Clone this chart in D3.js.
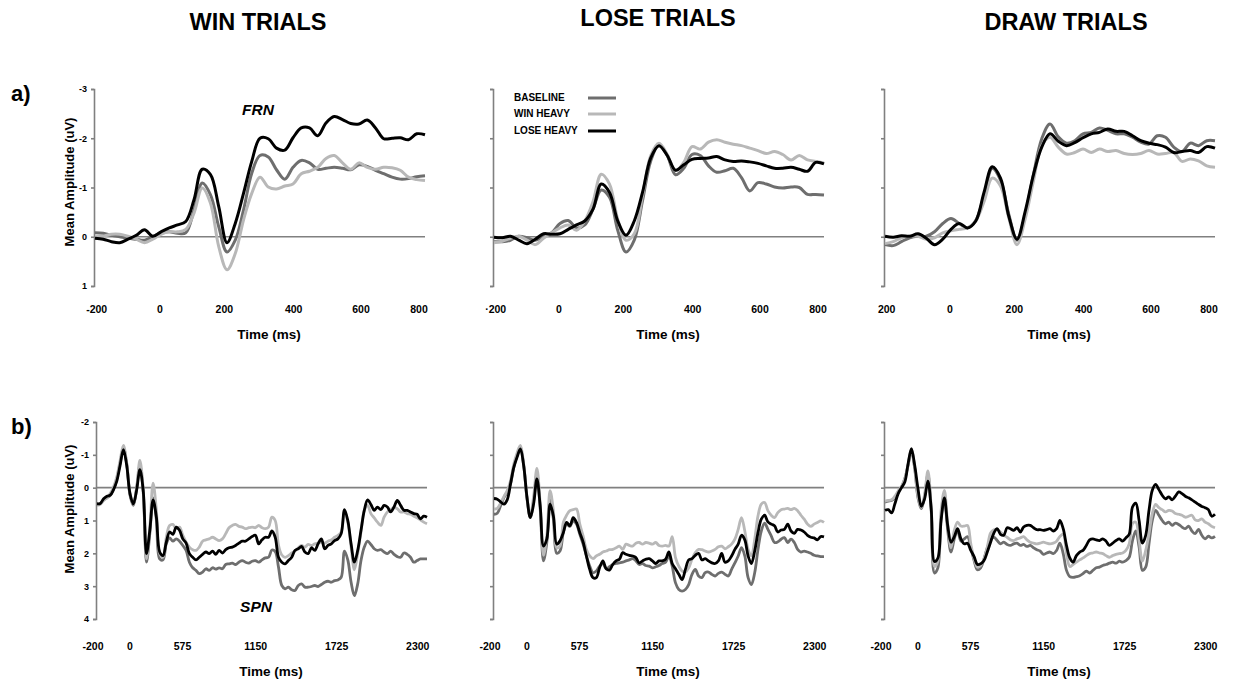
<!DOCTYPE html>
<html>
<head>
<meta charset="utf-8">
<script src="https://cdn.jsdelivr.net/npm/d3@7"></script>
<style>
	body { margin: 0; background: #fff; }
	svg { display: block; font-family: "Liberation Sans", Arial, sans-serif; }
</style>
</head>
<body>
<div id="chart"></div>
<script>
// conditions + panel titles
const conditions = ["BASELINE", "WIN HEAVY", "LOSE HEAVY"];
const trialTypes = ["WIN TRIALS", "LOSE TRIALS", "DRAW TRIALS"];

// sample grids (ms)
const frnTimes = d3.range(-200, 801, 25);
const spnTimes = d3.range(-200, 2301, 25);

// ticks
const frnYTicks = [-3, -2, -1, 0, 1];
const spnYTicks = [-2, -1, 0, 1, 2, 3, 4];
const frnXTicks = [-200, 0, 200, 400, 600, 800];
const spnXTicks = [-200, 0, 575, 1150, 1725, 2300];
const frnXLabels = [
	["-200", "0", "200", "400", "600", "800"],
	["·200", "0", "200", "400", "600", "800"],
	["200", "0", "200", "400", "600", "800"]
];
const spnXLabels = ["-200", "0", "575", "1150", "1725", "2300"];

// a) FRN, mean amplitude (uV) every 25 ms from -200 to 800
const frnWinBaseline = [-0.08, -0.07, -0.03, 0, 0.03, 0.05, 0.07, 0, -0.08, -0.10, -0.07, -0.08, -0.54, -1.09, -0.85, -0.20, 0.31, 0.07, -0.54, -1.29, -1.65, -1.62, -1.36, -1.17, -1.41, -1.55, -1.50, -1.37, -1.39, -1.41, -1.39, -1.36, -1.46, -1.43, -1.35, -1.28, -1.21, -1.17, -1.18, -1.22, -1.24];
const frnWinWinHeavy = [0, -0.01, -0.05, -0.05, -0.01, 0.05, 0.12, 0.05, -0.05, -0.10, -0.10, -0.15, -0.48, -0.99, -0.68, 0.20, 0.67, 0.34, -0.34, -0.88, -1.21, -1.01, -0.97, -1.03, -1.07, -1.28, -1.33, -1.41, -1.59, -1.65, -1.50, -1.37, -1.50, -1.41, -1.37, -1.41, -1.40, -1.35, -1.21, -1.16, -1.14];
const frnWinLoseHeavy = [0.03, 0.05, 0.10, 0.12, 0.05, -0.03, -0.14, -0.01, -0.10, -0.18, -0.24, -0.31, -0.75, -1.37, -1.26, -0.61, 0.12, -0.27, -0.88, -1.53, -2.00, -1.99, -1.80, -1.76, -2.01, -2.21, -2.21, -2.05, -2.31, -2.44, -2.38, -2.30, -2.29, -2.37, -2.21, -1.99, -2.00, -2.01, -1.97, -2.09, -2.07];

const frnLoseBaseline = [0.10, 0.10, 0.07, -0.01, 0.02, 0.07, -0.01, -0.08, -0.27, -0.33, -0.18, -0.24, -0.56, -0.95, -0.80, -0.13, 0.31, 0.07, -0.73, -1.54, -1.87, -1.65, -1.26, -1.39, -1.67, -1.65, -1.44, -1.31, -1.34, -1.39, -1.20, -0.93, -1.10, -1.07, -1.01, -0.99, -1.01, -1.00, -0.86, -0.86, -0.85];
const frnLoseWinHeavy = [0.12, 0.09, 0.03, -0.01, 0.07, 0.16, 0.03, -0.08, -0.18, -0.24, -0.13, -0.32, -0.71, -1.27, -1.07, -0.35, 0.07, -0.06, -0.83, -1.65, -1.90, -1.67, -1.34, -1.51, -1.83, -1.78, -1.92, -1.97, -1.92, -1.88, -1.85, -1.80, -1.75, -1.69, -1.73, -1.67, -1.56, -1.65, -1.56, -1.53, -1.50];
const frnLoseLoseHeavy = [0.01, 0.02, -0.01, 0.07, 0.14, 0.05, -0.06, -0.05, -0.06, -0.15, -0.24, -0.32, -0.56, -1.07, -0.90, -0.32, -0.03, -0.32, -0.90, -1.60, -1.85, -1.65, -1.35, -1.46, -1.57, -1.59, -1.60, -1.63, -1.56, -1.53, -1.54, -1.52, -1.49, -1.44, -1.39, -1.39, -1.41, -1.37, -1.33, -1.51, -1.48];

const frnDrawBaseline = [0.16, 0.18, 0.10, 0.02, -0.01, -0.01, -0.10, -0.27, -0.37, -0.27, -0.18, -0.33, -0.83, -1.39, -1.15, -0.46, 0.07, -0.46, -1.27, -1.99, -2.29, -2.03, -1.90, -1.95, -2.09, -2.12, -2.21, -2.16, -2.09, -2.09, -2.02, -1.92, -1.88, -2.05, -2.02, -1.82, -1.73, -1.90, -1.85, -1.95, -1.95];
const frnDrawWinHeavy = [0.14, 0.10, 0.02, -0.01, -0.01, 0.05, 0.02, -0.08, -0.12, -0.15, -0.18, -0.32, -0.71, -1.19, -1.03, -0.39, 0.16, -0.37, -1.14, -1.85, -2.02, -1.82, -1.68, -1.71, -1.78, -1.71, -1.78, -1.73, -1.75, -1.69, -1.67, -1.69, -1.75, -1.68, -1.69, -1.71, -1.53, -1.58, -1.54, -1.44, -1.41];
const frnDrawLoseHeavy = [-0.01, 0.01, -0.02, -0.01, -0.06, 0.03, 0.16, 0.05, -0.15, -0.27, -0.18, -0.32, -0.90, -1.42, -1.19, -0.42, 0.05, -0.52, -1.26, -1.82, -2.09, -1.94, -1.85, -1.91, -2.01, -2.09, -2.12, -2.19, -2.14, -2.14, -2.05, -1.95, -1.90, -1.87, -1.82, -1.71, -1.73, -1.75, -1.71, -1.83, -1.80];

// b) SPN, mean amplitude (uV) every 25 ms from -200 to 2300
const spnWinBaseline = [0.51, 0.49, 0.37, 0.31, 0.23, 0.06, -0.27, -0.75, -1.22, -0.73,
	0.23, 0.54, 0.03, -0.68, 0.13, 2.27, 1.40, 0.31, 0.99, 2.17,
	2.20, 1.71, 1.53, 1.63, 1.56, 1.63, 1.76, 1.91, 2.27, 2.44,
	2.52, 2.62, 2.57, 2.47, 2.52, 2.44, 2.48, 2.44, 2.47, 2.34,
	2.32, 2.30, 2.34, 2.27, 2.22, 2.27, 2.30, 2.24, 2.22, 2.27,
	2.20, 2.14, 2.12, 1.90, 1.95, 2.42, 2.98, 3.08, 3.03, 3.11,
	3.13, 2.98, 2.93, 3.03, 3.03, 3.01, 2.98, 3.01, 2.95, 2.88,
	2.85, 2.88, 2.83, 2.81, 2.73, 1.93, 2.20, 2.88, 3.29, 2.93,
	2.22, 1.81, 1.63, 1.73, 1.86, 1.91, 1.89, 1.96, 2.01, 1.93,
	2.03, 2.10, 2.12, 1.99, 2.03, 2.12, 2.27, 2.22, 2.17, 2.17,
	2.17];
const spnWinWinHeavy = [0.54, 0.51, 0.39, 0.31, 0.18, -0.02, -0.33, -0.83, -1.29, -0.75,
	0.16, 0.51, 0.00, -0.83, 0.03, 2.17, 1.20, -0.14, 0.69, 2.01,
	2.12, 1.51, 1.15, 1.12, 1.25, 1.20, 1.45, 1.66, 1.81, 1.89,
	1.91, 1.81, 1.63, 1.59, 1.56, 1.51, 1.56, 1.61, 1.56, 1.40,
	1.22, 1.15, 1.12, 1.18, 1.20, 1.25, 1.22, 1.20, 1.22, 1.15,
	1.22, 1.25, 1.20, 0.90, 1.00, 1.75, 2.05, 2.12, 2.07, 1.99,
	1.93, 1.83, 1.76, 1.81, 1.73, 1.76, 1.71, 1.69, 1.66, 1.69,
	1.63, 1.59, 1.51, 1.45, 1.35, 0.74, 1.05, 1.81, 2.50, 2.01,
	1.35, 0.69, 0.54, 0.79, 0.92, 1.05, 1.15, 0.90, 0.74, 0.67,
	0.61, 0.64, 0.74, 0.74, 0.79, 0.81, 0.87, 0.92, 0.98, 1.05,
	1.10];
const spnWinLoseHeavy = [0.49, 0.48, 0.34, 0.26, 0.23, 0.06, -0.20, -0.68, -1.16, -0.68,
	0.18, 0.49, 0.08, -0.55, 0.08, 2.01, 1.30, 0.37, 0.90, 1.96,
	2.07, 1.66, 1.35, 1.42, 1.20, 1.30, 1.56, 1.69, 2.01, 2.12,
	2.20, 2.12, 2.03, 1.96, 2.01, 1.93, 2.03, 1.91, 1.99, 1.89,
	1.83, 1.81, 1.76, 1.69, 1.63, 1.63, 1.56, 1.49, 1.45, 1.71,
	1.59, 1.51, 1.51, 1.32, 1.51, 2.12, 2.27, 2.32, 2.22, 2.12,
	1.91, 1.86, 1.79, 1.96, 2.01, 1.83, 1.91, 1.71, 1.56, 1.86,
	1.76, 1.71, 1.61, 1.56, 1.40, 0.67, 1.00, 1.71, 2.27, 1.91,
	1.30, 0.69, 0.37, 0.51, 0.69, 0.59, 0.67, 0.54, 0.59, 0.74,
	0.59, 0.39, 0.54, 0.69, 0.69, 0.74, 0.79, 0.81, 0.95, 0.87,
	0.90];

const spnLoseBaseline = [0.81, 0.78, 0.55, 0.30, 0.14, -0.11, -0.62, -0.98, -1.20, -0.67,
	0.33, 0.91, 0.40, -0.42, 0.65, 2.23, 1.67, 0.37, 0.96, 2.00,
	1.93, 1.37, 1.11, 1.18, 1.01, 1.11, 1.42, 1.72, 2.08, 2.39,
	2.59, 2.54, 2.39, 2.31, 2.47, 2.41, 2.34, 2.31, 2.29, 2.27,
	2.23, 2.20, 2.16, 2.23, 2.34, 2.31, 2.37, 2.39, 2.44, 2.41,
	2.37, 2.31, 2.27, 2.08, 2.39, 2.90, 3.10, 3.15, 3.10, 2.95,
	2.64, 2.49, 2.69, 2.74, 2.59, 2.57, 2.64, 2.69, 2.61, 2.57,
	2.64, 2.69, 2.49, 2.29, 2.08, 1.83, 2.08, 2.74, 2.95, 2.59,
	1.88, 1.32, 1.08, 1.27, 1.47, 1.67, 1.65, 1.57, 1.52, 1.67,
	1.57, 1.67, 1.88, 1.96, 1.93, 1.96, 2.00, 2.06, 2.08, 2.10,
	2.10];
const spnLoseWinHeavy = [0.65, 0.63, 0.47, 0.27, 0.09, -0.21, -0.72, -1.06, -1.29, -0.72,
	0.27, 0.88, 0.27, -0.59, 0.50, 2.06, 1.47, 0.09, 0.70, 1.83,
	1.78, 1.06, 0.84, 0.70, 0.67, 0.65, 1.11, 1.47, 1.88, 2.08,
	2.16, 2.08, 2.03, 1.96, 1.93, 1.89, 1.88, 1.83, 1.78, 1.88,
	1.72, 1.76, 1.78, 1.69, 1.67, 1.72, 1.67, 1.69, 1.72, 1.67,
	1.76, 1.78, 1.76, 1.78, 1.49, 2.13, 2.39, 2.54, 2.57, 2.44,
	2.18, 1.98, 1.88, 1.89, 1.93, 1.96, 1.93, 1.88, 1.80, 1.78,
	1.86, 1.80, 1.72, 1.57, 1.27, 0.91, 1.32, 1.88, 2.08, 1.57,
	0.86, 0.50, 0.45, 0.70, 0.84, 0.91, 0.76, 0.67, 0.65, 0.63,
	0.67, 0.63, 0.70, 0.84, 0.96, 1.11, 1.18, 1.11, 1.06, 1.01,
	1.06];
const spnLoseLoseHeavy = [0.33, 0.35, 0.43, 0.50, 0.37, -0.11, -0.62, -0.93, -1.18, -0.67,
	0.30, 0.91, 0.50, -0.27, 0.55, 1.78, 1.57, 0.50, 0.86, 1.72,
	1.62, 1.37, 1.06, 1.16, 0.91, 1.06, 1.37, 1.65, 2.08, 2.49,
	2.74, 2.74, 2.44, 2.23, 2.47, 2.51, 2.34, 2.23, 2.18, 1.98,
	2.03, 2.06, 2.08, 2.13, 2.29, 2.23, 2.18, 2.16, 2.23, 2.31,
	2.23, 2.23, 2.18, 1.96, 2.31, 2.47, 2.64, 2.80, 2.49, 2.20,
	2.16, 2.06, 2.00, 2.20, 2.16, 2.23, 2.29, 2.31, 2.23, 2.00,
	2.27, 2.23, 2.08, 1.88, 1.72, 1.45, 1.59, 2.08, 2.31, 1.93,
	1.37, 0.96, 0.84, 1.04, 1.11, 1.16, 1.35, 1.29, 1.27, 1.11,
	1.32, 1.39, 1.27, 1.29, 1.35, 1.45, 1.51, 1.53, 1.59, 1.49,
	1.50];

const spnDrawBaseline = [0.44, 0.41, 0.39, 0.31, 0.13, -0.02, -0.27, -0.68, -1.12, -0.58,
	0.31, 0.64, 0.28, -0.41, 0.69, 2.60, 2.45, 0.90, 0.37, 1.30,
	1.96, 1.56, 1.30, 1.63, 1.56, 1.49, 1.81, 2.22, 2.50, 2.44,
	2.17, 1.83, 1.59, 1.51, 1.61, 1.71, 1.66, 1.73, 1.76, 1.71,
	1.69, 1.76, 1.73, 1.79, 1.76, 1.83, 1.89, 1.93, 2.03, 1.99,
	1.96, 2.01, 1.91, 1.69, 2.01, 2.52, 2.71, 2.73, 2.71, 2.68,
	2.62, 2.54, 2.60, 2.52, 2.44, 2.42, 2.37, 2.34, 2.30, 2.27,
	2.30, 2.24, 2.27, 2.22, 2.12, 1.61, 1.32, 1.81, 2.52, 2.42,
	1.71, 1.00, 0.69, 0.84, 1.00, 1.10, 1.05, 1.15, 1.08, 1.12,
	1.20, 1.25, 1.17, 1.32, 1.40, 1.27, 1.45, 1.56, 1.48, 1.53,
	1.48];
const spnDrawWinHeavy = [0.41, 0.39, 0.37, 0.26, 0.10, -0.04, -0.27, -0.71, -1.16, -0.61,
	0.26, 0.61, 0.20, -0.51, 0.59, 2.40, 2.25, 0.69, 0.08, 1.10,
	1.83, 1.30, 1.05, 1.17, 1.17, 1.15, 1.71, 2.17, 2.42, 2.37,
	2.17, 1.81, 1.38, 1.28, 1.28, 1.35, 1.45, 1.51, 1.59, 1.61,
	1.56, 1.53, 1.49, 1.59, 1.66, 1.69, 1.71, 1.69, 1.66, 1.69,
	1.71, 1.69, 1.63, 1.49, 1.42, 2.01, 2.40, 2.34, 2.27, 2.20,
	2.14, 2.07, 2.01, 1.99, 1.96, 1.99, 2.01, 2.07, 2.12, 2.07,
	2.03, 2.01, 1.99, 1.91, 1.71, 1.10, 1.05, 1.61, 2.24, 1.91,
	1.40, 0.79, 0.51, 0.61, 0.67, 0.74, 0.69, 0.71, 0.79, 0.81,
	0.84, 0.90, 0.87, 0.84, 0.98, 1.00, 0.95, 1.05, 1.10, 1.18,
	1.22];
const spnDrawLoseHeavy = [0.69, 0.67, 0.77, 0.49, 0.18, 0.00, -0.17, -0.73, -1.19, -0.68,
	0.03, 0.57, 0.34, -0.20, 0.64, 2.25, 2.15, 1.00, 0.31, 1.15,
	1.66, 1.49, 1.25, 1.56, 1.71, 1.69, 1.91, 2.10, 2.34, 2.32,
	2.22, 1.96, 1.66, 1.38, 1.25, 1.42, 1.45, 1.22, 1.25, 1.30,
	1.22, 1.35, 1.20, 1.15, 1.15, 1.22, 1.28, 1.28, 1.30, 1.28,
	1.25, 1.32, 1.25, 1.00, 1.25, 1.76, 2.14, 2.27, 2.07, 1.96,
	1.91, 1.76, 1.59, 1.56, 1.59, 1.61, 1.56, 1.63, 1.76, 1.69,
	1.61, 1.56, 1.63, 1.53, 1.42, 0.59, 0.47, 1.00, 1.69, 1.45,
	0.69, 0.08, -0.10, 0.06, 0.23, 0.34, 0.28, 0.37, 0.26, 0.13,
	0.18, 0.26, 0.31, 0.37, 0.44, 0.51, 0.57, 0.61, 0.67, 0.87,
	0.81];

// ---------------------------------------------------------------
const width = 1237;
const height = 682;
const panelW = 330;
const axisColor = "#808080";
const lineColor = { "BASELINE": "#6e6e6e", "WIN HEAVY": "#b8b8b8", "LOSE HEAVY": "#000000" };

// plain hyphen, no decimals
const fmtTick = d => (d < 0 ? "-" + Math.abs(d) : String(d));

// row layouts
const rows = [
	{
		times: frnTimes, yTicks: frnYTicks, xTicks: frnXTicks,
		xDomain: [-200, 800], yDomain: [-3, 1], yRange: [89, 286],
		colX: [95, 494, 885],
		labelFrac: [0.005, 0.197, 0.392, 0.602, 0.806, 0.982],
		labelY: 313, titleY: 339, tag: "a)", tagY: 101, ampY: 182, lineW: 3,
		series: [
			[frnWinBaseline, frnWinWinHeavy, frnWinLoseHeavy],
			[frnLoseBaseline, frnLoseWinHeavy, frnLoseLoseHeavy],
			[frnDrawBaseline, frnDrawWinHeavy, frnDrawLoseHeavy]
		],
		xLabels: frnXLabels
	},
	{
		times: spnTimes, yTicks: spnYTicks, xTicks: spnXTicks,
		xDomain: [-200, 2300], yDomain: [-2, 4], yRange: [422, 619],
		colX: [97, 494, 885],
		labelFrac: [-0.012, 0.10, 0.259, 0.481, 0.726, 0.972],
		labelY: 650, titleY: 676, tag: "b)", tagY: 434, ampY: 509, lineW: 2.8,
		series: [
			[spnWinBaseline, spnWinWinHeavy, spnWinLoseHeavy],
			[spnLoseBaseline, spnLoseWinHeavy, spnLoseLoseHeavy],
			[spnDrawBaseline, spnDrawWinHeavy, spnDrawLoseHeavy]
		],
		xLabels: [spnXLabels, spnXLabels, spnXLabels]
	}
];

const svg = d3
	.select("#chart")
	.append("svg")
	.attr("width", width)
	.attr("height", height);

// column titles
const titleX = [258, 658, 1066];
const titleY = [30, 26, 30];
svg
	.selectAll(".col-title")
	.data(trialTypes)
	.enter()
	.append("text")
	.attr("class", "col-title")
	.attr("x", (d, i) => titleX[i])
	.attr("y", (d, i) => titleY[i])
	.attr("text-anchor", "middle")
	.style("font-size", "23.5px")
	.style("font-weight", 700)
	.text(d => d);

rows.forEach(row => {
	// row tag
	svg
		.append("text")
		.attr("x", 11)
		.attr("y", row.tagY)
		.style("font-size", "22px")
		.style("font-weight", 700)
		.text(row.tag);

	// y label
	svg
		.append("text")
		.attr("transform", `translate(74,${row.ampY}) rotate(-90)`)
		.attr("text-anchor", "middle")
		.style("font-size", "13px")
		.style("font-weight", 700)
		.text("Mean Amplitude (uV)");

	row.colX.forEach((x0, c) => {
		const x = d3.scaleLinear().domain(row.xDomain).range([x0, x0 + panelW]);
		const y = d3.scaleLinear().domain(row.yDomain).range(row.yRange);
		const labelScale = d3
			.scaleLinear()
			.domain(row.xTicks)
			.range(row.labelFrac.map(f => x0 + f * panelW));

		const g = svg.append("g");

		// y axis
		const yAxis = d3
			.axisLeft(y)
			.tickValues(row.yTicks)
			.tickSize(3)
			.tickSizeOuter(3)
			.tickPadding(4)
			.tickFormat(c > 0 ? () => "" : fmtTick);

		const axG = g
			.append("g")
			.attr("transform", `translate(${x0 - 1},0)`)
			.call(yAxis);
		axG.selectAll("path, line").attr("stroke", axisColor).attr("stroke-width", 1.6);
		axG
			.selectAll("text")
			.attr("fill", "#000")
			.style("font-family", '"Liberation Sans", Arial, sans-serif')
			.style("font-size", "9px")
			.style("font-weight", 700);

		// zero line
		g.append("line")
			.attr("x1", x(row.xDomain[0]))
			.attr("x2", x(row.xDomain[1]))
			.attr("y1", y(0))
			.attr("y2", y(0))
			.attr("stroke", axisColor)
			.attr("stroke-width", 1.6);

		// x tick labels
		g.selectAll(".xlab")
			.data(row.xTicks)
			.enter()
			.append("text")
			.attr("class", "xlab")
			.attr("x", d => labelScale(d))
			.attr("y", row.labelY)
			.attr("text-anchor", "middle")
			.style("font-size", "10.5px")
			.style("font-weight", 700)
			.text((d, i) => row.xLabels[c][i]);

		g.append("text")
			.attr("x", x0 + 174)
			.attr("y", row.titleY)
			.attr("text-anchor", "middle")
			.style("font-size", "13.5px")
			.style("font-weight", 700)
			.text("Time (ms)");

		// ERP lines
		const line = d3
			.line()
			.x((d, i) => x(row.times[i]))
			.y(d => y(d))
			.curve(d3.curveCatmullRom.alpha(0.5));

		g.selectAll(".erp")
			.data(row.series[c])
			.enter()
			.append("path")
			.attr("class", "erp")
			.attr("d", d => line(d))
			.attr("fill", "none")
			.attr("stroke", (d, i) => lineColor[conditions[i]])
			.attr("stroke-width", row.lineW)
			.attr("stroke-linejoin", "round");
	});
});

// component labels
svg.append("text")
	.attr("x", 258)
	.attr("y", 115)
	.attr("text-anchor", "middle")
	.style("font-size", "15.5px")
	.style("font-weight", 700)
	.style("font-style", "italic")
	.text("FRN");

svg.append("text")
	.attr("x", 256)
	.attr("y", 612)
	.attr("text-anchor", "middle")
	.style("font-size", "15.5px")
	.style("font-weight", 700)
	.style("font-style", "italic")
	.text("SPN");

// legend (lose trials panel)
const legendY = [97, 113, 130];
const legend = svg
	.selectAll(".legend")
	.data(conditions)
	.enter()
	.append("g")
	.attr("class", "legend")
	.attr("transform", (d, i) => `translate(0,${legendY[i]})`);

legend
	.append("text")
	.attr("x", 514)
	.attr("y", 3.5)
	.style("font-size", "10px")
	.style("font-weight", 700)
	.text(d => d);

legend
	.append("line")
	.attr("x1", 588)
	.attr("x2", 616)
	.attr("y1", 1)
	.attr("y2", 1)
	.attr("stroke", d => lineColor[d])
	.attr("stroke-width", 3);
</script>
</body>
</html>
